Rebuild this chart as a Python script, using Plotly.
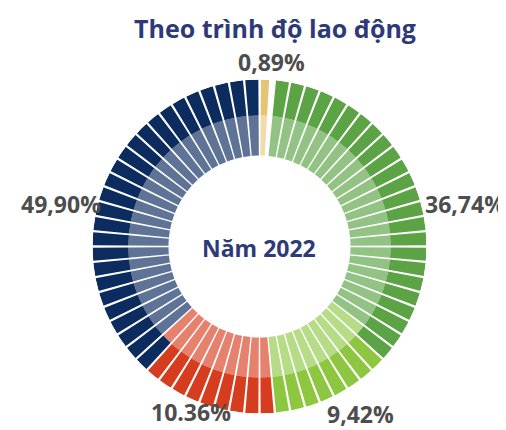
import plotly.graph_objects as go

# ---- data ----
groups = ["gold", "green", "lime", "red", "navy"]
percent_labels = ["0,89%", "36,74%", "9,42%", "10.36%", "49,90%"]
outer_slots = [1, 24, 8, 9, 26]   # segments per group, outer (dark) ring, clockwise from top
inner_slots = [1, 23, 9, 10, 25]  # segments per group, inner (light) ring
dark_colors = ["#e5c473", "#5ba345", "#8dc63f", "#d53d1e", "#0c2c5f"]
light_colors = ["#f0dcaa", "#93c384", "#b7dc88", "#e5816d", "#5e7395"]
title_text = "Theo trình độ lao động"
center_text = "Năm 2022"

R_IN, R_MID, R_OUT = 91, 131, 167
total = sum(outer_slots)
slot = 360.0 / total
gap = 0.8


def ring(counts, colors):
    th, wd, col = [], [], []
    idx = 0
    for g, n, c in zip(groups, counts, colors):
        for k in range(n):
            if g == "gold":
                th.append(idx * slot + slot * 0.36)
                wd.append(slot * 0.53)
            else:
                th.append((idx + 0.5) * slot)
                wd.append(slot - gap)
            col.append(c)
            idx += 1
    return th, wd, col


fig = go.Figure()
th, wd, col = ring(inner_slots, light_colors)
fig.add_trace(go.Barpolar(theta=th, width=wd, r=[R_MID - R_IN] * len(th), base=[R_IN] * len(th),
                          marker=dict(color=col, line=dict(width=0)), hoverinfo="skip"))
th, wd, col = ring(outer_slots, dark_colors)
fig.add_trace(go.Barpolar(theta=th, width=wd, r=[R_OUT - R_MID] * len(th), base=[R_MID] * len(th),
                          marker=dict(color=col, line=dict(width=0)), hoverinfo="skip"))

# the page body has an 8px default margin: figure is drawn at (8, 8)
OFF = 8
W, H = 506 - OFF, 430 - OFF
cx, cy, rad = 259.5 - OFF, 246.5 - OFF, 167
fig.update_layout(
    width=W, height=H, margin=dict(l=0, r=0, t=0, b=0),
    paper_bgcolor="white", plot_bgcolor="white", showlegend=False,
    polar=dict(
        domain=dict(x=[(cx - rad) / W, (cx + rad) / W], y=[(H - cy - rad) / H, (H - cy + rad) / H]),
        bgcolor="white",
        radialaxis=dict(visible=False, range=[0, R_OUT]),
        angularaxis=dict(visible=False, rotation=90, direction="clockwise"),
    ),
    font=dict(family="Open Sans, sans-serif"),
)


def px(x, y):
    return (x - OFF) / W, 1 - (y - OFF) / H


label_color = "#4d4d4d"
label_pos = [(271, 61.5), (465, 204), (360, 414), (191, 412), (61, 203.5)]
ann = []
tx, ty = px(275, 28)
ann.append(dict(text="<b>%s</b>" % title_text, x=tx, y=ty, xref="paper", yref="paper",
                showarrow=False, font=dict(size=25, color="#2e3a78"), xanchor="center", yanchor="middle"))
tx, ty = px(258.5, 248)
ann.append(dict(text="<b>%s</b>" % center_text, x=tx, y=ty, xref="paper", yref="paper",
                showarrow=False, font=dict(size=23, color="#2e3a78"), xanchor="center", yanchor="middle"))
for lab, (x, y) in zip(percent_labels, label_pos):
    tx, ty = px(x, y)
    ann.append(dict(text="<b>%s</b>" % lab, x=tx, y=ty, xref="paper", yref="paper",
                    showarrow=False, font=dict(size=23, color=label_color),
                    xanchor="center", yanchor="middle"))
fig.update_layout(annotations=ann)

fig.write_html("out.html")
